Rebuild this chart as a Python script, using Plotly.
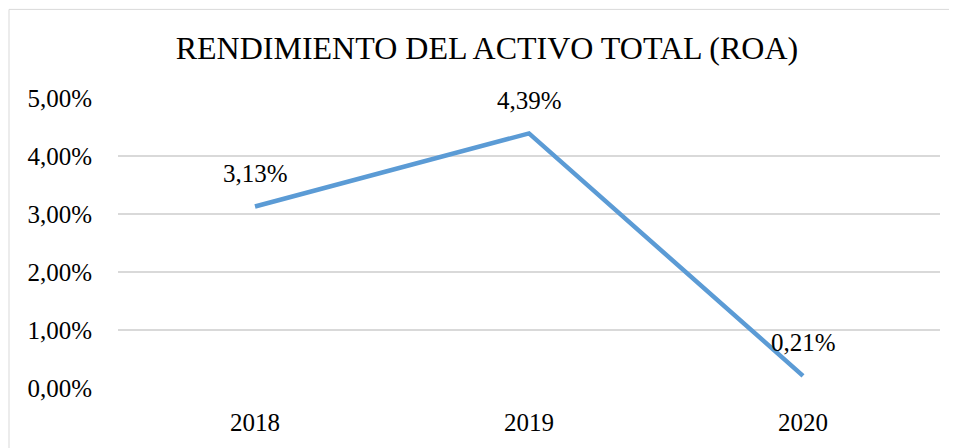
import plotly.graph_objects as go

# ── Data ───────────────────────────────────────────────────────
years = ["2018", "2019", "2020"]
roa = [0.0313, 0.0439, 0.0021]
roa_labels = ["3,13%", "4,39%", "0,21%"]
y_ticks = [0, 0.01, 0.02, 0.03, 0.04, 0.05]
y_tick_text = ["0,00%", "1,00%", "2,00%", "3,00%", "4,00%", "5,00%"]

FONT = "Liberation Serif"
BLUE = "#5B9BD5"

fig = go.Figure()
fig.add_trace(go.Scatter(
    x=years, y=roa, mode="lines",
    line=dict(color=BLUE, width=4.5),
    showlegend=False, hoverinfo="skip",
))

# data labels above each point (x as category index)
for i, (y, t) in enumerate(zip(roa, roa_labels)):
    fig.add_annotation(
        x=i, y=y, xref="x", yref="y", text=t, showarrow=False, yshift=33,
        font=dict(family=FONT, size=25, color="#000000"),
    )

# outer chart border
fig.add_shape(
    type="rect", xref="paper", yref="paper",
    x0=-0.1326, x1=1.04, y0=-0.3, y1=1.3055,
    line=dict(color="#D9D9D9", width=1), layer="below",
)

# page body adds an 8px margin, so the figure is sized/offset to suit
fig.update_layout(
    width=949, height=440,
    margin=dict(l=110, r=17, t=90, b=57),
    paper_bgcolor="white", plot_bgcolor="white",
    font=dict(family=FONT, size=25, color="#000000"),
    title=dict(
        text="RENDIMIENTO DEL ACTIVO TOTAL (ROA)",
        x=0.5047, xanchor="center", xref="container",
        y=0.91, yanchor="middle", yref="container",
        font=dict(family=FONT, size=32, color="#000000"),
    ),
    xaxis=dict(
        type="category", range=[-0.5, 2.5],
        showgrid=False, zeroline=False, showline=False,
        ticks="outside", ticklen=12, tickcolor="rgba(0,0,0,0)",
    ),
    yaxis=dict(
        range=[0, 0.05], tickvals=y_ticks, ticktext=y_tick_text,
        showgrid=True, gridcolor="#D9D9D9", gridwidth=1.5,
        zeroline=False, showline=False,
        ticks="outside", ticklen=20, tickcolor="rgba(0,0,0,0)",
    ),
)

fig.write_html("out.html")
